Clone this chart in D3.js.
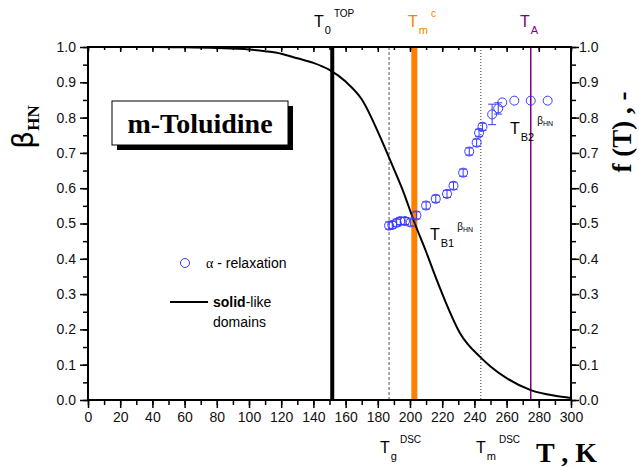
<!DOCTYPE html>
<html>
<head>
<meta charset="utf-8">
<script src="https://cdn.jsdelivr.net/npm/d3@7"></script>
<style>
    body { margin: 0; background: #fff; }
    text { font-family: "Liberation Sans", Arial, sans-serif; }
    .serif { font-family: "Liberation Serif", "Times New Roman", serif; font-weight: bold; }
</style>
</head>
<body>
<svg id="chart" width="639" height="468"></svg>
<script>
/*global d3 */

//alpha relaxation stretching parameter beta_HN vs T
var alphaT = [187, 189, 191.7, 194, 196.9, 200.4, 204, 210, 216, 223, 227,
              233, 236.8, 241.4, 242.9, 245, 251, 254.8, 257.3, 264.8, 275,
              285.5];
var alphaBeta = [0.494, 0.496, 0.502, 0.507, 0.507, 0.503, 0.523, 0.551,
                 0.570, 0.584, 0.607, 0.644, 0.704, 0.729, 0.757, 0.774,
                 0.809, 0.826, 0.843, 0.848, 0.848, 0.848];
var alphaErr = [0.01, 0.01, 0.01, 0.01, 0.01, 0.01, 0.01, 0.01, 0.01, 0.01,
                0.01, 0.01, 0.01, 0.01, 0.01, 0.01, 0.029, 0.016, 0, 0, 0, 0];

//solid-like domains fraction f(T)
var solidT = [0, 40, 60, 80, 100, 110, 120, 130, 140, 150, 160, 170, 181.4,
              187.6, 195, 203, 210, 216.6, 221, 231, 244, 250, 260, 275,
              290, 300];
var solidF = [1.0, 1.0, 0.999, 0.997, 0.993, 0.988, 0.981, 0.968, 0.955,
              0.935, 0.902, 0.852, 0.746, 0.68, 0.6, 0.5, 0.42, 0.34, 0.29,
              0.19, 0.12, 0.095, 0.062, 0.028, 0.012, 0.006];

//characteristic temperatures
var T0top = 151.7, Tmc = 202.7, TA = 275, TgDSC = 187, TmDSC = 244;
var xTicks = d3.range(0, 301, 20);
var yTicks = d3.range(0, 1.01, 0.1);

var svg = d3.select("#chart"),
    x = d3.scaleLinear().domain([0, 300]).range([88, 571]),
    y = d3.scaleLinear().domain([0, 1]).range([400, 47]);


function drawAxes () {
    var fmt = d3.format(".1f");
    svg.append("g").attr("transform", "translate(0,400)")
        .call(d3.axisBottom(x).tickValues(d3.range(0, 301, 10))
              .tickFormat("").tickSize(5));
    svg.append("g").attr("transform", "translate(0,400)")
        .call(d3.axisBottom(x).tickValues(xTicks).tickSize(8)
              .tickPadding(4));
    svg.append("g").attr("transform", "translate(0,47)")
        .call(d3.axisBottom(x).tickValues(d3.range(0, 301, 10))
              .tickFormat("").tickSize(3));
    svg.append("g").attr("transform", "translate(0,47)")
        .call(d3.axisBottom(x).tickValues(xTicks).tickFormat("").tickSize(5));
    svg.append("g").attr("transform", "translate(88,0)")
        .call(d3.axisLeft(y).tickValues(d3.range(0, 1.01, 0.05))
              .tickFormat("").tickSize(5));
    svg.append("g").attr("transform", "translate(88,0)")
        .call(d3.axisLeft(y).tickValues(yTicks).tickFormat(fmt)
              .tickSize(8).tickPadding(4));
    svg.append("g").attr("transform", "translate(571,0)")
        .call(d3.axisRight(y).tickValues(d3.range(0, 1.01, 0.05))
              .tickFormat("").tickSize(5));
    svg.append("g").attr("transform", "translate(571,0)")
        .call(d3.axisRight(y).tickValues(yTicks).tickFormat(fmt)
              .tickSize(8).tickPadding(0));
    svg.selectAll(".domain").remove();
    svg.selectAll(".tick line").attr("stroke", "#000").attr("stroke-width", 1.5);
    svg.selectAll(".tick text").attr("font-size", 14).attr("fill", "#111")
        .style("font-family", "'Liberation Sans', Arial, sans-serif");
    svg.append("rect")
        .attr("x", x(0)).attr("y", y(1))
        .attr("width", x(300) - x(0)).attr("height", y(0) - y(1))
        .attr("fill", "none").attr("stroke", "#000").attr("stroke-width", 2);
}


function drawMarkers () {
    var lines = [{t: TgDSC, c: "#555", w: 1, dash: "3,2"},
                 {t: TmDSC, c: "#333", w: 1, dash: "1,2"},
                 {t: T0top, c: "#000", w: 4, dash: null},
                 {t: Tmc, c: "#ff8000", w: 6, dash: null},
                 {t: TA, c: "#800080", w: 1.5, dash: null}];
    svg.append("g").selectAll("line").data(lines).enter().append("line")
        .attr("x1", function (d) { return x(d.t); })
        .attr("x2", function (d) { return x(d.t); })
        .attr("y1", y(1)).attr("y2", y(0))
        .attr("stroke", function (d) { return d.c; })
        .attr("stroke-width", function (d) { return d.w; })
        .attr("stroke-dasharray", function (d) { return d.dash; });
}


function drawCurve () {
    var line = d3.line()
        .x(function (d) { return x(d[0]); })
        .y(function (d) { return y(d[1]); })
        .curve(d3.curveMonotoneX);
    svg.append("path")
        .datum(d3.zip(solidT, solidF))
        .attr("d", line)
        .attr("fill", "none").attr("stroke", "#000").attr("stroke-width", 2);
}


function drawPoints () {
    var blue = "#3a3aff",
        pts = alphaT.map(function (t, i) {
            return {t: t, b: alphaBeta[i], e: alphaErr[i]}; }),
        g = svg.append("g").attr("stroke", blue).attr("fill", "none"),
        eb = pts.filter(function (d) { return d.e > 0; });
    g.selectAll(".eb").data(eb).enter().append("path")
        .attr("d", function (d) {
            var cx = x(d.t), y0 = y(d.b - d.e), y1 = y(d.b + d.e);
            return "M" + (cx - 4) + "," + y0 + "H" + (cx + 4) +
                "M" + (cx - 4) + "," + y1 + "H" + (cx + 4) +
                "M" + cx + "," + y0 + "V" + y1; })
        .attr("stroke-width", 1);
    g.selectAll("circle").data(pts).enter().append("circle")
        .attr("cx", function (d) { return x(d.t); })
        .attr("cy", function (d) { return y(d.b); })
        .attr("r", 4.5).attr("stroke-width", 1);
}


function tLabel (px, py, sub, sup, color, supSub) {
    var te = svg.append("text").attr("x", px).attr("y", py)
        .attr("fill", color).attr("font-size", 16);
    te.append("tspan").text("T");
    te.append("tspan").attr("font-size", 11).attr("dx", 1).attr("dy", 7)
        .text(sub);
    te.append("tspan").attr("font-size", 10).attr("dx", 3).attr("dy", -17)
        .text(sup);
    if(supSub) {
        te.append("tspan").attr("font-size", 7).attr("dy", 2).text(supSub); }
}


function drawLabels () {
    tLabel(314, 27, "0", "TOP", "#000");
    tLabel(408, 27, "m", "c", "#ff8000");
    tLabel(520, 27, "A", "", "#800080");
    tLabel(380, 453, "g", "DSC", "#000");
    tLabel(476, 453, "m", "DSC", "#000");
    tLabel(430, 240, "B1", "\u03b2", "#000", "HN");
    tLabel(510, 134, "B2", "\u03b2", "#000", "HN");
    //sample box with drop shadow
    svg.append("rect").attr("x", 117).attr("y", 106)
        .attr("width", 176).attr("height", 44).attr("fill", "#000");
    svg.append("rect").attr("x", 112).attr("y", 101)
        .attr("width", 176).attr("height", 44)
        .attr("fill", "#fff").attr("stroke", "#000").attr("stroke-width", 1);
    svg.append("text").attr("class", "serif")
        .attr("x", 200).attr("y", 133).attr("text-anchor", "middle")
        .attr("font-size", 28).text("m-Toluidine");
    //legend
    svg.append("circle").attr("cx", 185).attr("cy", 263).attr("r", 4.5)
        .attr("fill", "none").attr("stroke", "#3a3aff");
    var al = svg.append("text").attr("x", 206).attr("y", 268)
        .attr("font-size", 14);
    al.append("tspan").style("font-family", "'Liberation Serif', serif")
        .text("\u03b1");
    al.append("tspan").text(" - relaxation");
    svg.append("line").attr("x1", 170).attr("x2", 208)
        .attr("y1", 302).attr("y2", 302)
        .attr("stroke", "#000").attr("stroke-width", 2);
    var sl = svg.append("text").attr("x", 213).attr("y", 307)
        .attr("font-size", 14);
    sl.append("tspan").attr("font-weight", "bold").text("solid");
    sl.append("tspan").text("-like");
    svg.append("text").attr("x", 213).attr("y", 327).attr("font-size", 14)
        .text("domains");
    //axis titles
    svg.append("text").attr("class", "serif")
        .attr("x", 536).attr("y", 462).attr("font-size", 28).text("T , K");
    var bl = svg.append("text")
        .attr("transform", "translate(33,127) rotate(-90)")
        .attr("text-anchor", "middle");
    bl.append("tspan").attr("font-size", 28)
        .style("font-family", "'DejaVu Sans', sans-serif").text("\u03b2");
    bl.append("tspan").attr("class", "serif").attr("font-size", 17)
        .attr("dy", 6).text("HN");
    svg.append("text").attr("class", "serif")
        .attr("transform", "translate(631,132) rotate(-90)")
        .attr("text-anchor", "middle").attr("font-size", 27)
        .text("f (T) , -");
}


drawMarkers();
drawCurve();
drawAxes();
drawPoints();
drawLabels();
</script>
</body>
</html>
